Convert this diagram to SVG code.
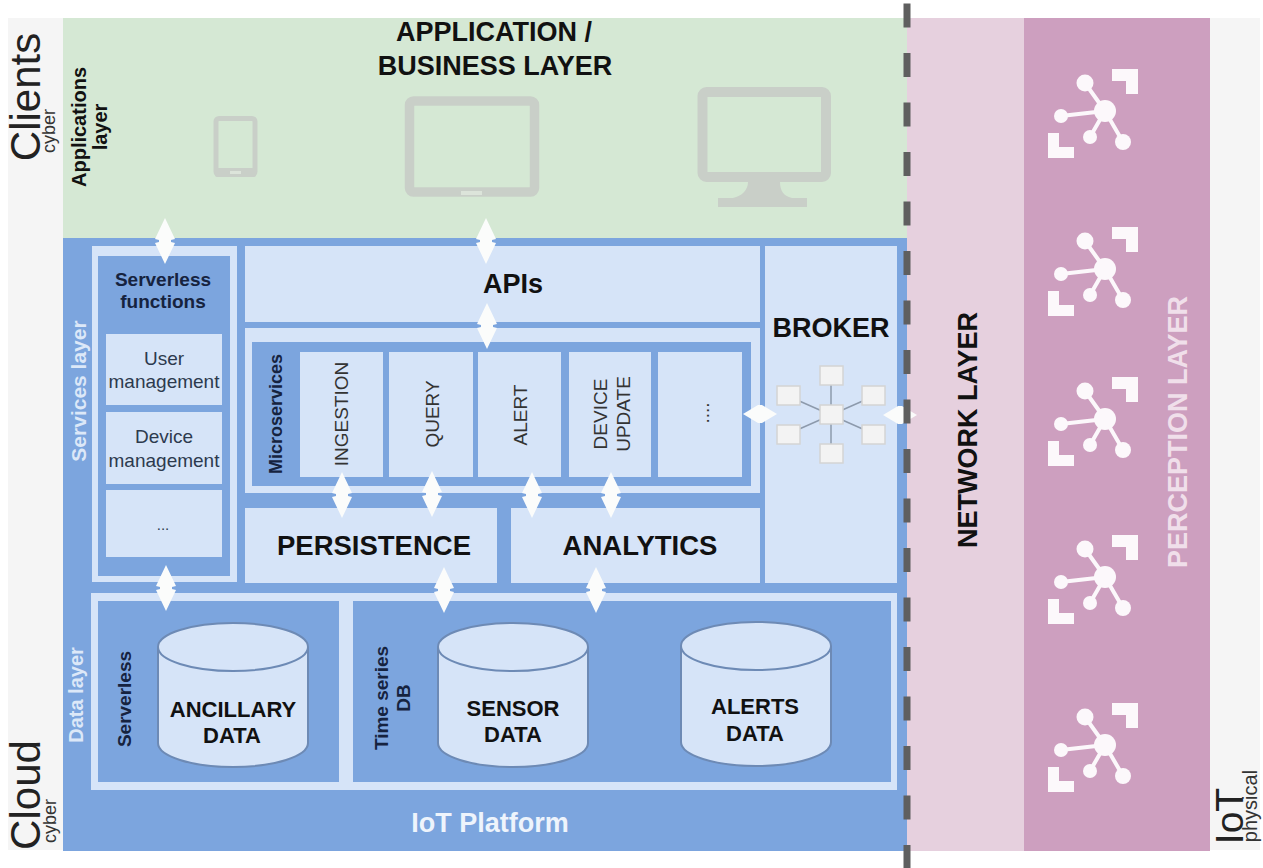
<svg xmlns="http://www.w3.org/2000/svg" width="1263" height="868" viewBox="0 0 1263 868">
<style>
.t{font-family:"Liberation Sans",Arial,sans-serif;text-anchor:middle;fill:#111}
.b{font-weight:700}
.n{fill:#16233f}
.g{fill:#2d3a4e}
.s{fill:#333}
.w{fill:#eef4fc}
.v{fill:#dce8f8}
.lb{fill:#d6e4f8}
.mb{fill:#7ca5de}
.cy{fill:#d6e4f8;stroke:#6d8ab5;stroke-width:2}
.sq{fill:#f3f3f3;stroke:#d4d4d4;stroke-width:1.5}
.dev{fill:none;stroke:#c9cfc8}
.df{fill:#c9cfc8}
.hb{fill:#dce4da}
.ar{fill:#fbfcfb}
.ic{fill:#fcf8fb}
.icl{stroke:#fcf8fb;stroke-width:4;fill:none}
</style>
<defs>
<polygon id="dv" class="ar" points="0,-23 10,-2 6,-1 6,1 10,2 0,23 -10,2 -6,1 -6,-1 -10,-2"/>
<polygon id="dh" class="ar" points="-17,0 -2,-9 2,-9 17,0 2,9 -2,9"/>
<path id="db" d="M0,0V96A75,24 0 0 0 150,96V0"/>
<g id="iot">
<path class="ic" d="M1112,69h26v25h-12v-13h-14zM1048,133h11v14h15v11h-26z"/>
<path class="icl" d="M1085,83L1105,111M1061,116L1105,111M1090,137L1105,111M1123,142L1105,111"/>
<circle class="ic" cx="1105" cy="111" r="11"/>
<circle class="ic" cx="1085" cy="83" r="8.500"/>
<circle class="ic" cx="1061" cy="116" r="7"/>
<circle class="ic" cx="1090" cy="137" r="7"/>
<circle class="ic" cx="1123" cy="142" r="8"/>
</g>
</defs>
<rect width="1263" height="868" fill="#fff"/>
<g id="side-strips">
<rect x="8" y="18" width="56" height="832" fill="#f5f5f5"/>
<rect x="1210" y="18" width="50" height="832" fill="#f5f5f5"/>
</g>
<g id="application-layer">
<rect x="63" y="18" width="844" height="220" fill="#d5e8d4"/>
<text class="t b" x="494" y="41" font-size="27">APPLICATION /</text>
<text class="t b" x="495" y="75" font-size="27">BUSINESS LAYER</text>
<text class="t b" transform="translate(86,127) rotate(-90)" font-size="20">Applications</text>
<text class="t b" transform="translate(107,127) rotate(-90)" font-size="20">layer</text>
<g id="phone"><rect class="dev" x="216" y="118.500" width="39" height="56" rx="3" stroke-width="5"/><rect class="df" x="215" y="168" width="41" height="9" rx="2"/><rect class="hb" x="230" y="171" width="11" height="3"/></g>
<g id="tablet"><rect class="dev" x="409.500" y="101" width="125" height="91" rx="4" stroke-width="9.500"/><rect class="hb" x="461" y="191" width="21" height="4"/></g>
<g id="monitor"><rect class="dev" x="702.500" y="92" width="123.500" height="85" rx="4" stroke-width="10"/><path d="M748,182h32c0,8 3,14 12,16h15v9h-89v-9h15c9,-2 15,-8 15,-16z" class="df"/></g>
</g>
<g id="iot-platform">
<rect x="63" y="238" width="844" height="613" fill="#7ca5de"/>
<text class="t b w" x="490" y="832" font-size="27">IoT Platform</text>
<text class="t b v" transform="translate(86,391) rotate(-90)" font-size="21">Services layer</text>
<text class="t b v" transform="translate(83,695) rotate(-90)" font-size="20">Data layer</text>
</g>
<g id="serverless-functions">
<rect class="lb" x="92" y="246" width="145" height="336"/>
<rect class="mb" x="98" y="256" width="132" height="320"/>
<text class="t b n" x="163" y="286" font-size="19">Serverless</text>
<text class="t b n" x="163" y="308" font-size="19">functions</text>
<rect class="lb" x="106" y="334" width="116" height="71"/>
<text class="t g" x="164" y="365" font-size="19">User</text>
<text class="t g" x="164" y="388" font-size="19">management</text>
<rect class="lb" x="106" y="412" width="116" height="72"/>
<text class="t g" x="164" y="443" font-size="19">Device</text>
<text class="t g" x="164" y="467" font-size="19">management</text>
<rect class="lb" x="106" y="490" width="116" height="67"/>
<text class="t g" x="163" y="530" font-size="15">...</text>
</g>
<g id="apis">
<rect class="lb" x="245" y="246" width="515" height="76"/>
<text class="t b" x="513" y="293" font-size="27">APIs</text>
</g>
<g id="microservices">
<rect class="lb" x="245" y="328" width="515" height="165"/>
<rect class="mb" x="252" y="342" width="499" height="144"/>
<text class="t b n" transform="translate(282,414) rotate(-90)" font-size="18">Microservices</text>
<rect class="lb" x="300" y="352" width="83" height="125"/>
<text class="t s" transform="translate(348,414) rotate(-90)" font-size="19">INGESTION</text>
<rect class="lb" x="389" y="352" width="84" height="125"/>
<text class="t s" transform="translate(439,414) rotate(-90)" font-size="19">QUERY</text>
<rect class="lb" x="478" y="352" width="83" height="125"/>
<text class="t s" transform="translate(527,415) rotate(-90)" font-size="19">ALERT</text>
<rect class="lb" x="569" y="352" width="82" height="125"/>
<text class="t s" transform="translate(607,414) rotate(-90)" font-size="19">DEVICE</text>
<text class="t s" transform="translate(630,414) rotate(-90)" font-size="19">UPDATE</text>
<rect class="lb" x="658" y="352" width="84" height="125"/>
<text class="t s" transform="translate(709,413) rotate(-90)" font-size="19">....</text>
</g>
<g id="persistence">
<rect class="lb" x="245" y="508" width="252" height="75"/>
<text class="t b" x="374" y="555" font-size="27.500">PERSISTENCE</text>
</g>
<g id="analytics">
<rect class="lb" x="511" y="508" width="249" height="75"/>
<text class="t b" x="640" y="555" font-size="27.500">ANALYTICS</text>
</g>
<g id="broker">
<rect class="lb" x="765" y="246" width="132" height="337"/>
<text class="t b" x="831" y="337" font-size="27">BROKER</text>
<path d="M831,385V444M788,396L874,434M874,396L788,434" stroke="#8d9aac" stroke-width="1.500"/>
<rect class="sq" x="820" y="366" width="23" height="19"/>
<rect class="sq" x="777" y="386" width="23" height="19"/>
<rect class="sq" x="862" y="386" width="23" height="19"/>
<rect class="sq" x="820" y="405" width="23" height="19"/>
<rect class="sq" x="777" y="425" width="23" height="19"/>
<rect class="sq" x="862" y="425" width="23" height="19"/>
<rect class="sq" x="820" y="444" width="23" height="19"/>
</g>
<g id="data-layer">
<rect class="lb" x="91" y="593" width="806" height="197"/>
<rect class="mb" x="98" y="601" width="241" height="181"/>
<rect class="mb" x="353" y="601" width="538" height="181"/>
<text class="t b n" transform="translate(131,699) rotate(-90)" font-size="19">Serverless</text>
<text class="t b n" transform="translate(388,698) rotate(-90)" font-size="19">Time series</text>
<text class="t b n" transform="translate(410,698) rotate(-90)" font-size="19">DB</text>
</g>
<g id="ancillary-data">
<use href="#db" class="cy" x="158" y="647"/><ellipse class="cy" cx="233" cy="647" rx="75" ry="24"/>
<text class="t b" x="233" y="717" font-size="22">ANCILLARY</text>
<text class="t b" x="232" y="743" font-size="22">DATA</text>
</g>
<g id="sensor-data">
<use href="#db" class="cy" x="438" y="647"/><ellipse class="cy" cx="513" cy="647" rx="75" ry="24"/>
<text class="t b" x="513" y="716" font-size="22">SENSOR</text>
<text class="t b" x="513" y="742" font-size="22">DATA</text>
</g>
<g id="alerts-data">
<use href="#db" class="cy" x="681" y="646"/><ellipse class="cy" cx="756" cy="646" rx="75" ry="24"/>
<text class="t b" x="755" y="714" font-size="22">ALERTS</text>
<text class="t b" x="755" y="741" font-size="22">DATA</text>
</g>
<g id="network-layer">
<rect x="907" y="18" width="117" height="833" fill="#e6d0de"/>
<text class="t b" transform="translate(977,430) rotate(-90)" font-size="27">NETWORK LAYER</text>
</g>
<g id="perception-layer">
<rect x="1024" y="18" width="186" height="833" fill="#cd9fbf"/>
<text class="t b" transform="translate(1187,432) rotate(-90)" font-size="27" style="fill:#f0dfea">PERCEPTION LAYER</text>
<use href="#iot"/><use href="#iot" y="158"/><use href="#iot" y="308"/><use href="#iot" y="466"/><use href="#iot" y="634"/>
</g>
<g id="side-labels">
<text class="t" transform="translate(40,97) rotate(-90)" font-size="42" style="fill:#222">Clients</text>
<text class="t s" transform="translate(55,131) rotate(-90)" font-size="18">cyber</text>
<text class="t" transform="translate(40,795) rotate(-90)" font-size="42" style="fill:#222">Cloud</text>
<text class="t s" transform="translate(56,821) rotate(-90)" font-size="18">cyber</text>
<text class="t" transform="translate(1243,816) rotate(-90)" font-size="39" style="fill:#222">IoT</text>
<text class="t s" transform="translate(1257,806) rotate(-90)" font-size="20">physical</text>
</g>
<g id="connectors">
<use href="#dv" x="165" y="241"/>
<use href="#dv" x="486" y="241"/>
<use href="#dv" x="487" y="326"/>
<use href="#dv" x="342" y="495"/>
<use href="#dv" x="432" y="494"/>
<use href="#dv" x="532" y="495"/>
<use href="#dv" x="611" y="495"/>
<use href="#dv" x="166" y="588"/>
<use href="#dv" x="444" y="590"/>
<use href="#dv" x="596" y="590"/>
<use href="#dh" x="760" y="414"/>
<use href="#dh" x="900" y="415"/>
<line x1="907" y1="3.500" x2="907" y2="868" stroke="#5f5f5f" stroke-width="7" stroke-dasharray="24 25.500"/>
</g>
</svg>
